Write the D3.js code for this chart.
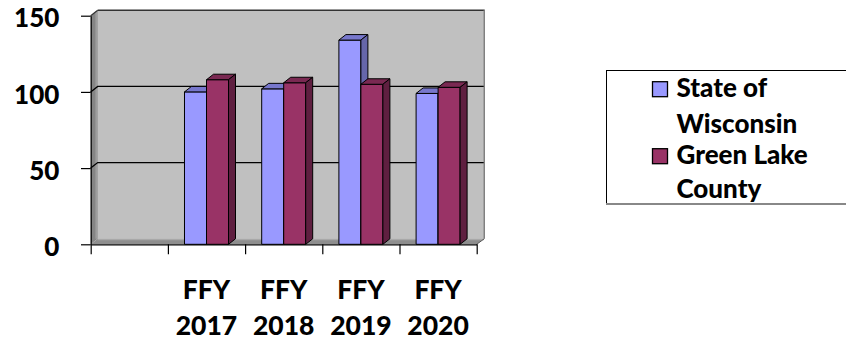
<!DOCTYPE html>
<html>
<head>
<meta charset="utf-8">
<script src="https://cdn.jsdelivr.net/npm/d3@7"></script>
<style>
  html, body { margin: 0; padding: 0; background: #fff; }
  svg { display: block; }
  text { font-family: Lato, "Open Sans", sans-serif; font-weight: 900; fill: #000; }
</style>
</head>
<body>
<svg id="chart" width="846" height="339"></svg>
<script>
// Categories (the first slot is an empty column)
const categories = ["", "FFY 2017", "FFY 2018", "FFY 2019", "FFY 2020"];
const seriesNames = ["State of Wisconsin", "Green Lake County"];
const stateOfWisconsin = [null, 100, 102, 134, 99];
const greenLakeCounty  = [null, 108, 106, 105, 103];
const yTicks = [0, 50, 100, 150];

const front  = ["#9999FF", "#993366"];
const top3d  = ["#7777CC", "#7A2952"];
const side3d = ["#6666AA", "#5F1F40"];

const FONT = "Lato, 'Open Sans', sans-serif";
const plot = { left: 90.7, right: 476.7, top: 15.7, bottom: 244.3 };
const depth = { dx: 7, dy: -5.5 };

const svg = d3.select("#chart");

const y = d3.scaleLinear().domain([0, 150]).range([plot.bottom, plot.top]);
const x0 = d3.scaleBand().domain(categories).range([plot.left, plot.right]).paddingInner(0).paddingOuter(0);
const groupW = x0.bandwidth() * 0.57;
const x1 = d3.scaleBand().domain(seriesNames)
  .range([(x0.bandwidth() - groupW) / 2, (x0.bandwidth() + groupW) / 2]);

const poly = pts => pts.map(p => p.join(",")).join(" ");

// --- walls ---
const walls = svg.append("g");
// back wall
walls.append("rect")
  .attr("x", plot.left + depth.dx).attr("y", plot.top + depth.dy)
  .attr("width", plot.right - plot.left).attr("height", plot.bottom - plot.top)
  .attr("fill", "#C0C0C0");
// side wall
walls.append("polygon")
  .attr("points", poly([[plot.left, plot.top], [plot.left + depth.dx, plot.top + depth.dy],
                        [plot.left + depth.dx, plot.bottom + depth.dy], [plot.left, plot.bottom]]))
  .attr("fill", "#858585");
walls.append("line")
  .attr("x1", plot.left + depth.dx - 1.5).attr("x2", plot.left + depth.dx - 1.5)
  .attr("y1", plot.top + depth.dy + 1).attr("y2", plot.bottom + depth.dy)
  .attr("stroke", "#a0a0a0").attr("stroke-width", 1.5);
// floor
walls.append("polygon")
  .attr("points", poly([[plot.left, plot.bottom], [plot.right, plot.bottom],
                        [plot.right + depth.dx, plot.bottom + depth.dy], [plot.left + depth.dx, plot.bottom + depth.dy]]))
  .attr("fill", "#8e8e8e");
walls.append("line")
  .attr("x1", plot.left + depth.dx).attr("x2", plot.right + depth.dx)
  .attr("y1", plot.bottom + depth.dy + 0.8).attr("y2", plot.bottom + depth.dy + 0.8)
  .attr("stroke", "#a8a8a8").attr("stroke-width", 1.2);
// wall top border and right edge
walls.append("line")
  .attr("x1", plot.left + depth.dx).attr("x2", plot.right + depth.dx + 1)
  .attr("y1", plot.top + depth.dy).attr("y2", plot.top + depth.dy)
  .attr("stroke", "#333").attr("stroke-width", 1.6);
walls.append("line")
  .attr("x1", plot.right + depth.dx + 0.5).attr("x2", plot.right + depth.dx + 0.5)
  .attr("y1", plot.top + depth.dy).attr("y2", plot.bottom + depth.dy)
  .attr("stroke", "#7a7a7a").attr("stroke-width", 1.5);
walls.append("line")
  .attr("x1", plot.right).attr("x2", plot.right + depth.dx + 0.5)
  .attr("y1", plot.bottom).attr("y2", plot.bottom + depth.dy)
  .attr("stroke", "#555").attr("stroke-width", 1);

// gridlines: diagonal across side wall, horizontal across back wall
const grid = svg.append("g");
yTicks.filter(v => v > 0 && v < 150).forEach(v => {
  grid.append("polyline")
    .attr("points", poly([[plot.left, y(v)], [plot.left + depth.dx, y(v) + depth.dy],
                          [plot.right + depth.dx, y(v) + depth.dy]]))
    .attr("fill", "none").attr("stroke", "#000").attr("stroke-width", 1.3);
});
grid.append("line")
  .attr("x1", plot.left).attr("y1", y(150))
  .attr("x2", plot.left + depth.dx).attr("y2", y(150) + depth.dy)
  .attr("stroke", "#333").attr("stroke-width", 1.2);

// --- bars ---
const rows = categories.map((c, i) => ({
  cat: c,
  vals: [stateOfWisconsin[i], greenLakeCounty[i]]
}));

const bars = svg.append("g");
rows.forEach(r => {
  r.vals.forEach((v, si) => {
    if (v == null) return;
    const xl = x0(r.cat) + x1(seriesNames[si]);
    const xr = xl + x1.bandwidth();
    const yt = y(v), yb = y(0);
    const g = bars.append("g").attr("stroke", "#000").attr("stroke-width", 1).attr("stroke-linejoin", "round");
    g.append("rect").attr("x", xl).attr("y", yt).attr("width", xr - xl).attr("height", yb - yt)
      .attr("fill", front[si]);
    g.append("polygon")
      .attr("points", poly([[xl, yt], [xl + depth.dx, yt + depth.dy], [xr + depth.dx, yt + depth.dy], [xr, yt]]))
      .attr("fill", top3d[si]);
    g.append("polygon")
      .attr("points", poly([[xr, yt], [xr + depth.dx, yt + depth.dy], [xr + depth.dx, yb + depth.dy], [xr, yb]]))
      .attr("fill", side3d[si]);
  });
});

// --- y axis ---
const yAxis = svg.append("g")
  .attr("transform", `translate(${plot.left},0)`)
  .call(d3.axisLeft(y).tickValues(yTicks).tickSize(9.7).tickPadding(21.7).tickSizeOuter(0));
yAxis.select(".domain").attr("stroke", "#000").attr("stroke-width", 1.2);
yAxis.selectAll(".tick line").attr("stroke", "#000").attr("stroke-width", 1.2);
yAxis.selectAll(".tick text").attr("font-size", 26).attr("dy", 11.2)
  .attr("font-family", FONT).attr("font-weight", 900).attr("fill", "#000");

// --- x axis: ticks on category boundaries ---
const xb = d3.scaleLinear().domain([0, categories.length]).range([plot.left, plot.right]);
const xAxis = svg.append("g")
  .attr("transform", `translate(0,${plot.bottom})`)
  .call(d3.axisBottom(xb).ticks(categories.length).tickSize(10).tickFormat("").tickSizeOuter(0));
xAxis.select(".domain").attr("stroke", "#000").attr("stroke-width", 1.2);
xAxis.selectAll(".tick line").attr("stroke", "#000").attr("stroke-width", 1.2);

// category labels, two lines each
const xLabels = svg.append("g");
categories.forEach(c => {
  if (!c) return;
  const parts = c.split(" ");
  const cx = x0(c) + x0.bandwidth() / 2;
  const t = xLabels.append("text").attr("text-anchor", "middle").attr("font-size", 26.5);
  t.append("tspan").attr("x", cx).attr("y", 298.5).text(parts[0]);
  t.append("tspan").attr("x", cx).attr("y", 334.5).text(parts[1]);
});

// --- legend ---
const legend = svg.append("g");
legend.append("rect")
  .attr("x", 606.5).attr("y", 70.5).attr("width", 260).attr("height", 133)
  .attr("fill", "#fff").attr("stroke", "#000").attr("stroke-width", 1);
legend.append("line")
  .attr("x1", 606).attr("x2", 846).attr("y1", 204).attr("y2", 204)
  .attr("stroke", "#888").attr("stroke-width", 2);

const legendLines = [["State of", "Wisconsin"], ["Green Lake", "County"]];
const legendSwatchY = [81.7, 148.7];
const legendBaselines = [[96.7, 133.2], [163.5, 198.2]];
seriesNames.forEach((s, i) => {
  legend.append("rect")
    .attr("x", 652.5).attr("y", legendSwatchY[i]).attr("width", 15).attr("height", 15)
    .attr("fill", front[i]).attr("stroke", "#000").attr("stroke-width", 1.3);
  const t = legend.append("text").attr("font-size", 26);
  legendLines[i].forEach((ln, j) => {
    t.append("tspan").attr("x", 676.5).attr("y", legendBaselines[i][j]).text(ln);
  });
});
</script>
</body>
</html>
